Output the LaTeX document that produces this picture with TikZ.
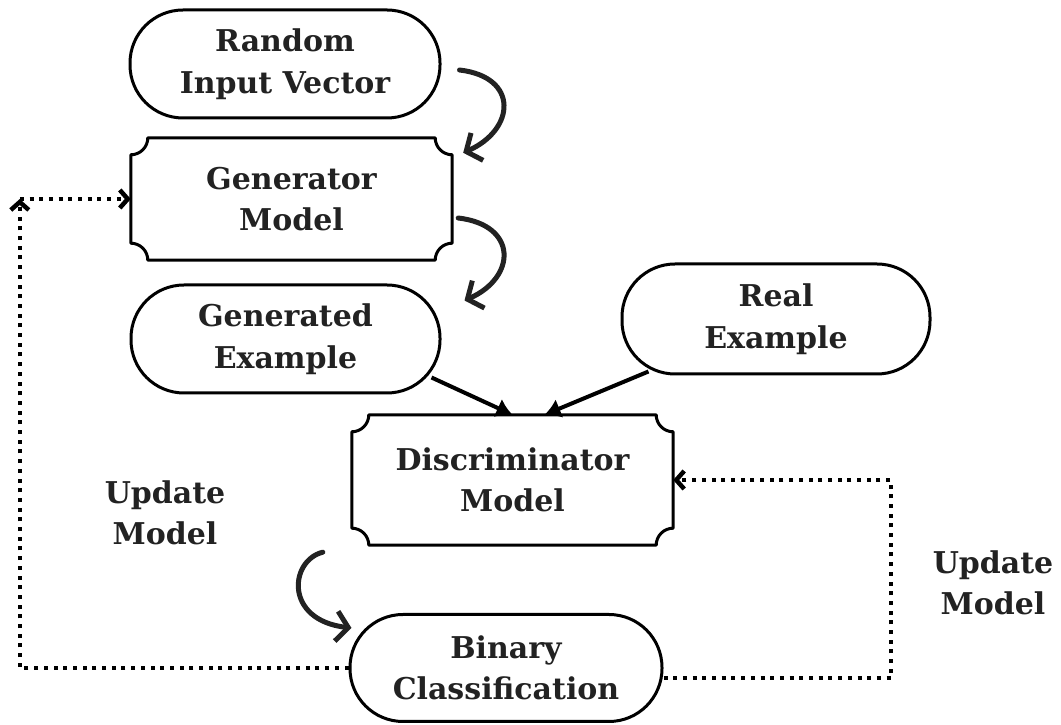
\documentclass[tikz,border=0pt]{standalone}
\usepackage{fontspec}
\setmainfont{DejaVu Serif}
\usetikzlibrary{arrows.meta,calc}
\definecolor{ink}{HTML}{222222}

% Rectangle outline with concave quarter-circle notches at the corners
\newcommand\notchframe[2][17]{%
  \draw[frame] ($(#2.north west)+(#1,0)$) -- ($(#2.north east)+(-#1,0)$)
    arc[start angle=180,end angle=270,radius=#1]
    -- ($(#2.south east)+(0,#1)$)
    arc[start angle=90,end angle=180,radius=#1]
    -- ($(#2.south west)+(#1,0)$)
    arc[start angle=0,end angle=90,radius=#1]
    -- ($(#2.north west)+(0,-#1)$)
    arc[start angle=270,end angle=360,radius=#1] -- cycle;}

\begin{document}
\begin{tikzpicture}[x=1pt,y=1pt,
  label text/.style={font=\fontsize{30}{41.5}\selectfont\bfseries, text=ink, align=center},
  pill/.style={label text, draw=black, line width=3pt, rounded corners=53pt, inner sep=0pt},
  notched/.style={label text, inner sep=0pt},
  frame/.style={draw=black, line width=3pt, line join=round},
  bend arrow/.style={draw=ink, line width=5pt, line cap=round,
    -{Straight Barb[length=12pt,width=30pt]}},
  feed arrow/.style={draw=black, line width=4pt, -{Latex[length=16pt,width=20pt]}},
  dotted link/.style={draw=black, line width=4.5pt, dash pattern=on 4pt off 5.7pt,
    -{Straight Barb[length=8pt,width=18pt]}}]
\useasboundingbox (0,0) rectangle (1061,725);

% boxes
\node[pill, minimum width=310pt, minimum height=108pt] (rnd) at (285,661) {Random\\Input Vector};
\node[notched, minimum width=321pt, minimum height=122pt] (gen) at (291.5,526) {Generator\\Model};
\notchframe{gen}
\node[pill, minimum width=309pt, minimum height=108pt] (gex) at (285.5,386) {Generated\\Example};
\node[pill, minimum width=308pt, minimum height=110pt] (rex) at (776,406) {Real\\Example};
\node[notched, minimum width=321pt, minimum height=130pt] (dis) at (512.5,245) {Discriminator\\Model};
\notchframe{dis}
\node[pill, minimum width=312pt, minimum height=107pt] (bin) at (506,57) {Binary\\Classification};

% side labels
\node[label text] (upl) at (165,212) {Update\\Model};
\node[label text] (upr) at (993,142) {Update\\Model};

% curved flow arrows
\coordinate (a1s) at ($(rnd.east)+(18,-6)$);
\coordinate (a1e) at ($(gen.north east)+(11,-15)$);
\draw[bend arrow] (a1s) .. controls +(60,-7) and +(52,23) .. (a1e);
\coordinate (a2s) at ($(gen.east)+(6,-19)$);
\coordinate (a2e) at ($(gex.north east)+(23,-17)$);
\draw[bend arrow] (a2s) .. controls +(60,-7) and +(52,23) .. (a2e);
\coordinate (a3s) at ($(dis.south west)+(-29,-7)$);
\coordinate (a3e) at ($(bin.west)+(3,40)$);
\draw[bend arrow] (a3s) .. controls +(-33,-8) and +(-68,8) .. (a3e);

% inputs to the discriminator
\draw[feed arrow] ($(gex.south east)+(-10,17)$) -- (dis.north);
\draw[feed arrow] ($(rex.south west)+(28,4)$) -- ($(dis.north)+(32,0)$);

% update loops
\coordinate (lc) at ($(gen.west)+(-111,0)$);
\draw[dotted link] (bin.west) -| (lc);
\draw[dotted link] (lc) -- (gen.west);
\coordinate (rc) at ($(dis.east)+(218,0)$);
\draw[dotted link] ($(bin.east)+(0,-10)$) -| (rc) -- (dis.east);
\end{tikzpicture}
\end{document}
